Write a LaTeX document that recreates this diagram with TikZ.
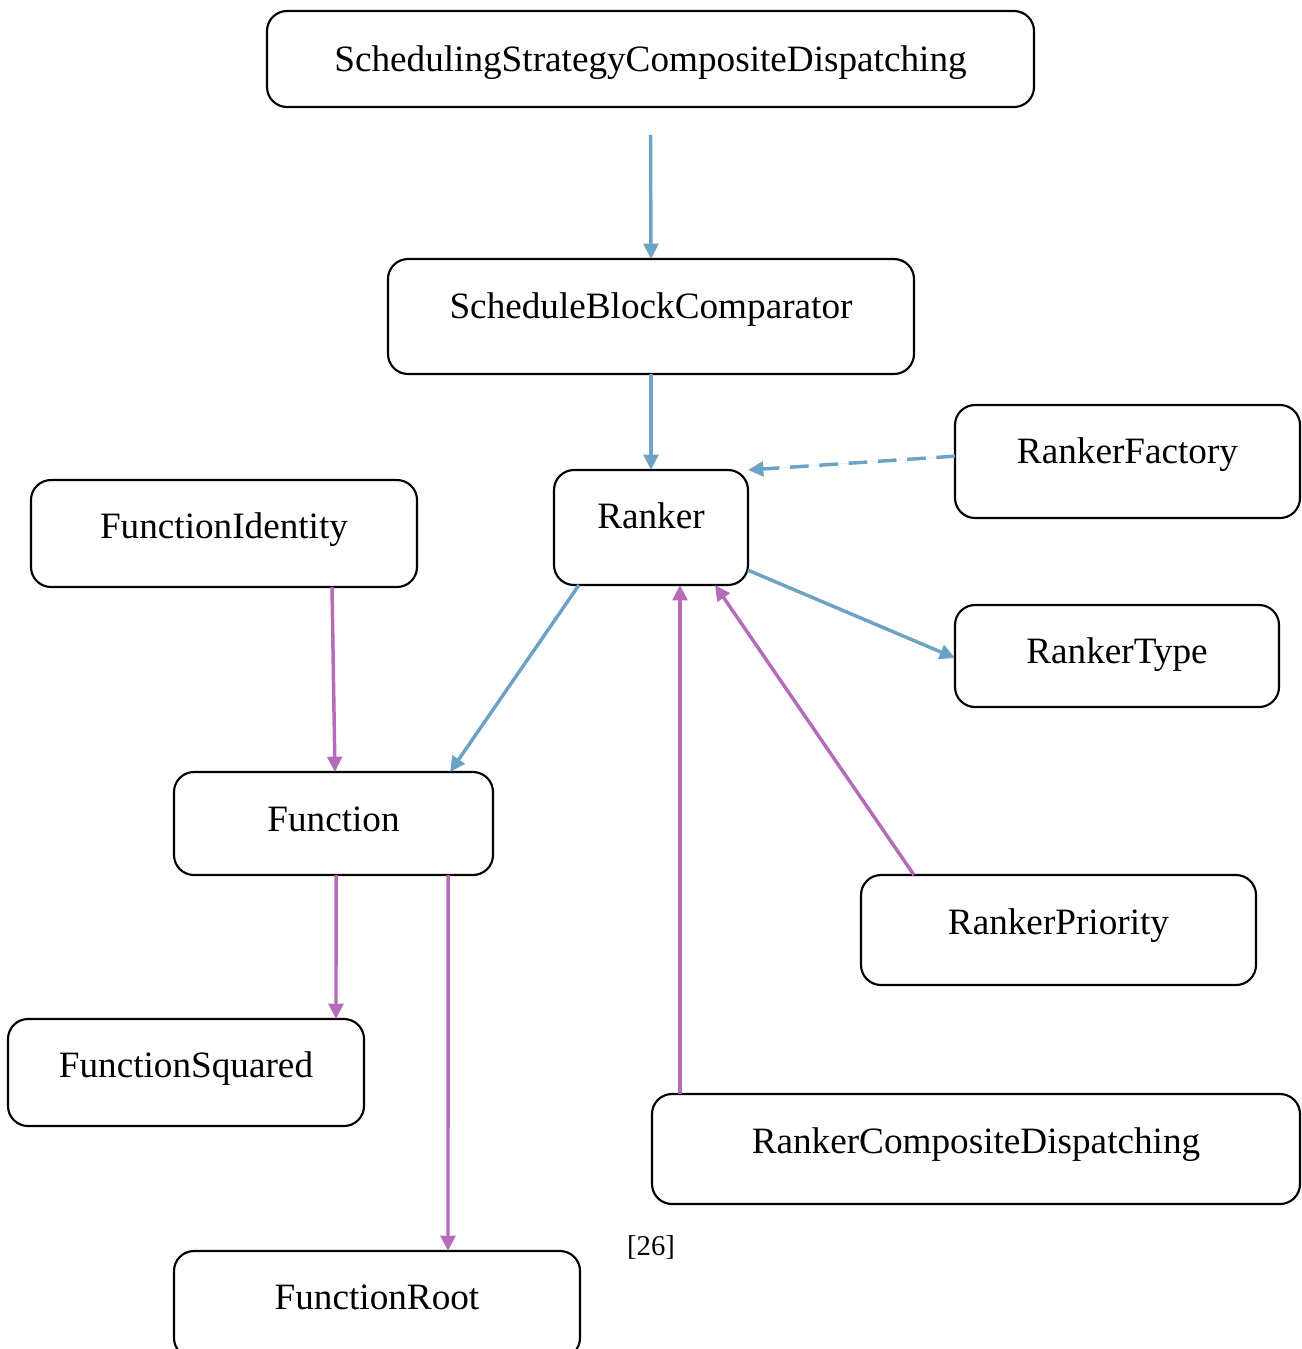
\documentclass[tikz,border=0pt]{standalone}
\usepackage{fontspec}
\setmainfont{Liberation Serif}
\usetikzlibrary{arrows.meta}
\definecolor{linkblue}{HTML}{6CA3C5}
\definecolor{linkpurple}{HTML}{B56BBA}
\begin{document}
\begin{tikzpicture}[x=0.75pt,y=-0.75pt,
  box/.style={draw=black, line width=1.6pt, rounded corners=15pt, inner sep=0pt, outer sep=0pt},
  lbl/.style={anchor=base, inner sep=0pt, font=\fontsize{27.9}{33}\selectfont},
  small/.style={anchor=base, inner sep=0pt, font=\fontsize{21.5}{26}\selectfont},
  conn/.style={line width=2.6pt, -{Triangle[length=11.5pt,width=11pt]}},
  assoc/.style={conn, draw=linkblue, fill=linkblue},
  inherit/.style={conn, draw=linkpurple, fill=linkpurple},
  depends/.style={assoc, dash pattern=on 14pt off 8pt}]
\useasboundingbox (0,0) rectangle (1302,1349);
\clip (0,0) rectangle (1302,1349);

% class boxes
\node[box, minimum width=575.25pt, minimum height=72pt]   (sscd)  at (650.5,59)   {};
\node[box, minimum width=394.5pt,  minimum height=86.25pt] (sbc)   at (651,316.5)  {};
\node[box, minimum width=145.5pt,  minimum height=86.25pt] (ranker) at (651,527.5) {};
\node[box, minimum width=258.75pt, minimum height=84.75pt] (rfac)  at (1127.5,461.5) {};
\node[box, minimum width=289.5pt,  minimum height=80.25pt] (fid)   at (224,533.5)  {};
\node[box, minimum width=243pt,    minimum height=76.5pt]  (rtype) at (1117,656)   {};
\node[box, minimum width=239.25pt, minimum height=77.25pt] (func)  at (333.5,823.5) {};
\node[box, minimum width=296.25pt, minimum height=82.5pt]  (rprio) at (1058.5,930) {};
\node[box, minimum width=267pt,    minimum height=80.25pt] (fsq)   at (186,1072.5) {};
\node[box, minimum width=486pt,    minimum height=82.5pt]  (rcd)   at (976,1149)   {};
\node[box, minimum width=304.5pt,  minimum height=80.25pt] (froot) at (377,1304.5) {};

% class names
\node[lbl] (sscd-t)   at (650.5,71)  {SchedulingStrategyCompositeDispatching};
\node[lbl] (sbc-t)    at (651,318)   {ScheduleBlockComparator};
\node[lbl] (ranker-t) at (651,528)   {Ranker};
\node[lbl] (rfac-t)   at (1127.5,463) {RankerFactory};
\node[lbl] (fid-t)    at (224,538)   {FunctionIdentity};
\node[lbl] (rtype-t)  at (1117,663)  {RankerType};
\node[lbl] (func-t)   at (333.5,831) {Function};
\node[lbl] (rprio-t)  at (1058.5,934) {RankerPriority};
\node[lbl] (fsq-t)    at (186,1077)  {FunctionSquared};
\node[lbl] (rcd-t)    at (976,1153)  {RankerCompositeDispatching};
\node[lbl] (froot-t)  at (377,1309)  {FunctionRoot};
\node[small] (ref)    at (651,1255)  {[26]};

% associations
\draw[assoc] ([yshift=-21pt]sscd.south) -- (sbc.north);
\draw[assoc] (sbc.south) -- (ranker.north);
\draw[depends] ([yshift=4pt]rfac.west) -- (ranker.north east);
\draw[assoc] ([yshift=-32pt]ranker.east) -- ([yshift=-1.5pt]rtype.west);
\draw[assoc] ([xshift=-54pt]ranker.south) -- ([xshift=87.4pt]func.north);

% inheritance
\draw[inherit] ([xshift=81pt]fid.south) -- ([xshift=1.1pt]func.north);
\draw[inherit] ([xshift=-222pt]rcd.north) -- ([xshift=21.75pt]ranker.south);
\draw[inherit] ([xshift=-108.4pt]rprio.north) -- ([xshift=48pt]ranker.south);
\draw[inherit] ([xshift=1.9pt]func.south) -- ([xshift=112.5pt]fsq.north);
\draw[inherit] ([xshift=85.9pt]func.south) -- ([xshift=53.25pt]froot.north);
\end{tikzpicture}
\end{document}
